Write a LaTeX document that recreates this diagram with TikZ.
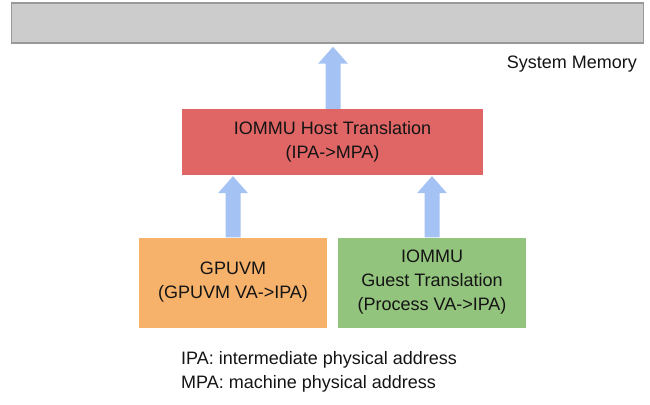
\documentclass[tikz,border=0pt]{standalone}
\usepackage{fontspec}
\setmainfont{Liberation Sans}
\usetikzlibrary{calc}
\definecolor{memgray}{HTML}{CCCCCC}
\definecolor{memborder}{HTML}{999999}
\definecolor{hostred}{HTML}{E06666}
\definecolor{gpuorange}{HTML}{F6B26B}
\definecolor{guestgreen}{HTML}{93C47D}
\definecolor{arrowblue}{HTML}{A4C2F4}
\definecolor{textdark}{HTML}{141414}
\begin{document}
\begin{tikzpicture}[x=1pt,y=-1pt,
  box/.style={draw=none,inner sep=0pt,align=center,text=textdark,
    font=\fontsize{18}{24}\selectfont},
  bigarrow/.style={fill=arrowblue,draw=none}]
\useasboundingbox (0,0) rectangle (650,404);
% system memory
\node[draw=memborder,line width=1.5pt,fill=memgray,minimum width=632pt,minimum height=40pt,inner sep=0pt] (mem) at (327.5,23) {};
\node[box,anchor=base east] (memlabel) at (637,69) {System Memory};
% boxes
\node[box,fill=hostred,minimum width=301pt,minimum height=66pt] (host) at (332.5,142) {IOMMU Host Translation\\(IPA->MPA)};
\node[box,fill=gpuorange,minimum width=188pt,minimum height=90pt] (gpu) at (233,282.5) {GPUVM\\(GPUVM VA->IPA)};
\node[box,fill=guestgreen,minimum width=188pt,minimum height=90pt] (guest) at (432,282.5) {IOMMU\\Guest Translation\\(Process VA->IPA)};
% legend
\node[box,anchor=north west,align=left] (legend) at (181,351) {IPA: intermediate physical address\\MPA: machine physical address};
% block arrows: #1 = start node anchor, #2 = node whose edge the tip reaches
\newcommand{\fatarrow}[2]{%
  \fill[bigarrow] let \p1=#1, \p2=#2 in
    (\x1-7.5pt,\y1) -- (\x1-7.5pt,\y2-17pt) -- (\x1-15pt,\y2-17pt) --
    (\x1,\y2) -- (\x1+15pt,\y2-17pt) -- (\x1+7.5pt,\y2-17pt) --
    (\x1+7.5pt,\y1) -- cycle;}
\coordinate (hosttop) at ($(host.north)+(0.5,0)$);
\coordinate (memtip) at ($(mem.south)+(0,3)$);
\fatarrow{(hosttop)}{(memtip)}
\coordinate (gputop) at (gpu.north);
\coordinate (gputip) at ($(host.south)+(0,1)$);
\fatarrow{(gputop)}{(gputip)}
\coordinate (guesttop) at (guest.north);
\fatarrow{(guesttop)}{(gputip)}
\end{tikzpicture}
\end{document}
